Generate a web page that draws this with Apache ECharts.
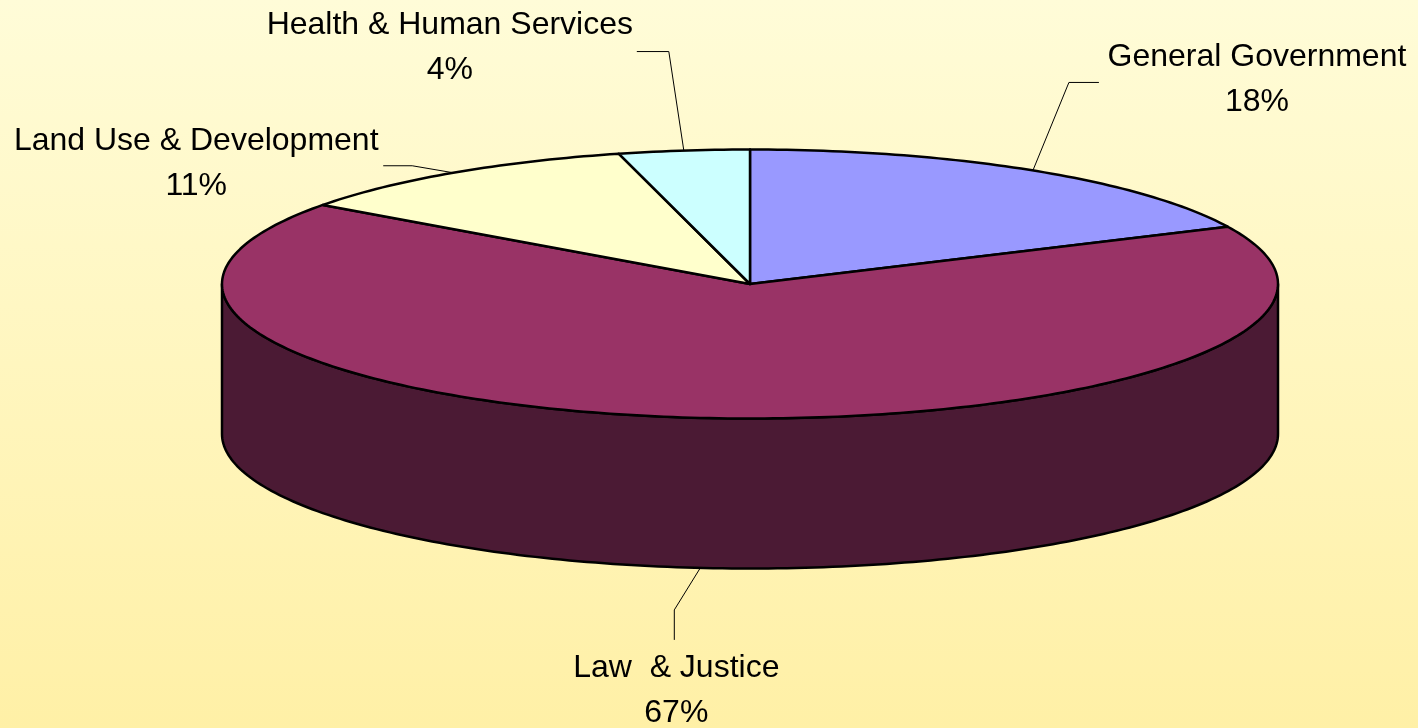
<!DOCTYPE html>
<html lang="en">
<head>
    <meta charset="UTF-8">
    <title>Pie</title>
    <script src="https://cdn.jsdelivr.net/npm/echarts@6/dist/echarts.min.js"></script>
</head>
<style>
html,body{margin:0;padding:0;}
#chartBox{width:1418px;height:728px;}
</style>
<body>
    <div id="chartBox"></div>
</body>
<script>
// data
const categories = ['General Government', 'Law  & Justice', 'Land Use & Development', 'Health & Human Services'];
const values = [18, 67, 11, 4];

// styles
const topColors = ['#9999ff', '#993366', '#ffffcc', '#ccffff'];
const sideColors = ['#4c4c80', '#4b1a34', '#808066', '#668080'];

// label placement, relative to the anchor point on the rim: [elbow, end, text centre]
const labelOffsets = [
    [[36, -88], [66, -88], [224, -91]],
    [[-26, 42], [-26, 72], [-24, 123]],
    [[-41, -7], [-70, -7], [-257, -9]],
    [[-15, -99], [-47, -99], [-234, -103]]
];

// ellipse geometry
const geo = {cx: 750, cy: 284, rx: 528, ry: 134.5, depth: 150};

function rimPoint(deg, dy) {
    let t = deg * Math.PI / 180;
    return [geo.cx + geo.rx * Math.sin(t), geo.cy - geo.ry * Math.cos(t) + dy];
}

function arcPoints(a, b, dy) {
    let pts = [];
    let n = Math.max(2, Math.ceil(Math.abs(b - a)));
    for (let k = 0; k <= n; k++) {
        pts.push(rimPoint(a + (b - a) * k / n, dy));
    }
    return pts;
}

function toPath(pts, close) {
    let d = pts.map((p, k) => (k === 0 ? 'M' : 'L') + p[0].toFixed(2) + ',' + p[1].toFixed(2)).join(' ');
    return close ? d + ' Z' : d;
}

const total = values.reduce((s, v) => s + v, 0);

function renderSlice(params, api) {
    let i = params.dataIndex;
    let before = 0;
    for (let k = 0; k < i; k++) before += values[k];
    let a = before / total * 360;
    let b = (before + values[i]) / total * 360;
    let children = [];

    // front side wall
    let s = Math.max(a, 90), e = Math.min(b, 270);
    if (e > s) {
        let pts = arcPoints(s, e, 0).concat(arcPoints(e, s, geo.depth));
        children.push({
            type: 'path',
            shape: {pathData: toPath(pts, true)},
            style: {fill: sideColors[i], stroke: '#000', lineWidth: 2.5, lineJoin: 'round'}
        });
    }

    // top face
    let topPts = [[geo.cx, geo.cy]].concat(arcPoints(a, b, 0));
    children.push({
        type: 'path',
        shape: {pathData: toPath(topPts, true)},
        style: {fill: topColors[i], stroke: '#000', lineWidth: 2.5, lineJoin: 'round'}
    });

    // label with leader line
    let mid = (a + b) / 2;
    let front = Math.cos(mid * Math.PI / 180) < 0;
    let anchor = rimPoint(mid, front ? geo.depth : 0);
    let off = labelOffsets[i];
    children.push({
        type: 'polyline',
        shape: {points: [anchor, [anchor[0] + off[0][0], anchor[1] + off[0][1]], [anchor[0] + off[1][0], anchor[1] + off[1][1]]]},
        style: {fill: null, stroke: '#000', lineWidth: 1}
    });
    let pct = Math.round(values[i] / total * 100) + '%';
    children.push({
        type: 'text',
        x: anchor[0] + off[2][0],
        y: anchor[1] + off[2][1],
        style: {
            text: categories[i] + '\n' + pct,
            fill: '#000',
            fontSize: 32,
            fontFamily: 'Liberation Sans, Arial, sans-serif',
            lineHeight: 45,
            align: 'center',
            verticalAlign: 'middle'
        }
    });
    return {type: 'group', children: children};
}

let chartObj = echarts.init(document.getElementById('chartBox'));
chartObj.setOption({
    animation: false,
    backgroundColor: {
        type: 'linear', x: 0, y: 0, x2: 0, y2: 1,
        colorStops: [{offset: 0, color: '#fffcd8'}, {offset: 1, color: '#fff0a6'}]
    },
    series: [{
        type: 'custom',
        coordinateSystem: 'none',
        silent: true,
        renderItem: renderSlice,
        data: values.map((v, i) => ({name: categories[i], value: v}))
    }]
});
</script>
</html>
